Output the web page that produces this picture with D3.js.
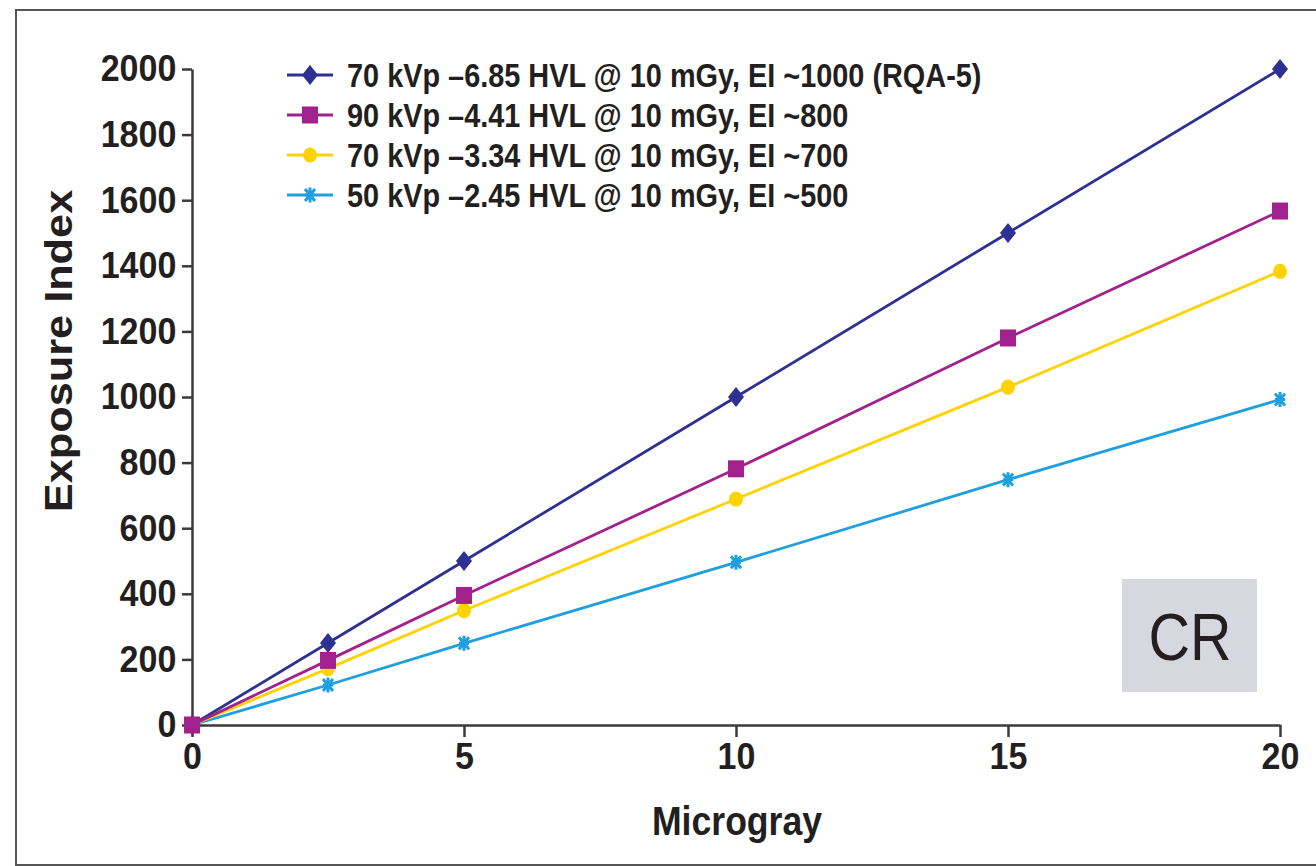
<!DOCTYPE html>
<html>
<head>
<meta charset="utf-8">
<script src="https://cdn.jsdelivr.net/npm/d3@7"></script>
<style>
  html, body { margin: 0; padding: 0; background: #fff; }
  svg { display: block; }
  text { font-family: "Liberation Sans", Arial, Helvetica, sans-serif; fill: #231f20; }
</style>
</head>
<body>
<svg id="chart" width="1316" height="866"></svg>
<script>
// ---- data ----
const microgray = [0, 2.5, 5, 10, 15, 20];
const seriesNames = [
  "70 kVp \u20136.85 HVL @ 10 mGy, EI ~1000 (RQA-5)",
  "90 kVp \u20134.41 HVL @ 10 mGy, EI ~800",
  "70 kVp \u20133.34 HVL @ 10 mGy, EI ~700",
  "50 kVp \u20132.45 HVL @ 10 mGy, EI ~500"
];
const ei70hard = [0, 250, 500, 1000, 1500, 2000];
const ei90 = [0, 197, 395, 781, 1180, 1567];
const ei70soft = [0, 172, 349, 689, 1030, 1383];
const ei50 = [0, 122, 249, 496, 748, 992];
const xTicks = [0, 5, 10, 15, 20];
const yTicks = [0, 200, 400, 600, 800, 1000, 1200, 1400, 1600, 1800, 2000];
const seriesColors = ["#2e3192", "#a3218e", "#ffd200", "#1e9fe0"];
const seriesMarkers = ["diamond", "square", "circle", "star"];

const series = [ei70hard, ei90, ei70soft, ei50].map((vals, i) => ({
  name: seriesNames[i], color: seriesColors[i], marker: seriesMarkers[i],
  points: microgray.map((m, j) => ({ x: m, y: vals[j] }))
}));

const svg = d3.select("#chart");

// outer frame
svg.append("rect").attr("x", 16).attr("y", 10).attr("width", 1330).attr("height", 855)
  .attr("fill", "none").attr("stroke", "#555").attr("stroke-width", 2);

const x = d3.scaleLinear().domain([0, 20]).range([192, 1280]);
const y = d3.scaleLinear().domain([0, 2000]).range([725, 69]);

// axes
const yAxis = svg.append("g").attr("transform", "translate(192,0)")
  .call(d3.axisLeft(y).tickValues(yTicks).tickFormat(d3.format("d"))
    .tickSize(10).tickSizeOuter(0).tickPadding(7));
const xAxis = svg.append("g").attr("transform", "translate(0,725)")
  .call(d3.axisBottom(x).tickValues(xTicks).tickFormat(d3.format("d"))
    .tickSize(12).tickSizeOuter(0).tickPadding(6));
[yAxis, xAxis].forEach(a => {
  a.select(".domain").attr("stroke", "#3a3a3a").attr("stroke-width", 2.5);
  a.selectAll(".tick line").attr("stroke", "#3a3a3a").attr("stroke-width", 2.5);
  a.selectAll(".tick text").attr("font-size", 37).attr("font-weight", "bold")
    .attr("fill", "#231f20").style("font-family", '"Liberation Sans", Arial, sans-serif')
    .attr("transform", "scale(0.92,1)");
});

// CR box
svg.append("rect").attr("x", 1122).attr("y", 579).attr("width", 135).attr("height", 113)
  .attr("fill", "#d6d7df");
svg.append("text").attr("transform", "translate(1190,660) scale(0.87,1)")
  .attr("text-anchor", "middle").attr("font-size", 66).text("CR");

// marker drawing
function drawMarker(g, type, color) {
  if (type === "diamond") {
    g.append("path").attr("d", "M0,-10L8,0L0,10L-8,0Z").attr("fill", color);
  } else if (type === "square") {
    g.append("rect").attr("x", -8).attr("y", -8.5).attr("width", 16).attr("height", 17).attr("fill", color);
  } else if (type === "circle") {
    g.append("ellipse").attr("rx", 7).attr("ry", 7.6).attr("fill", color);
  } else {
    g.append("path").attr("d", "M-5,-6L5,6M-5,6L5,-6M0,-7.5L0,7.5M-5,0L5,0")
      .attr("stroke", color).attr("stroke-width", 3).attr("fill", "none");
  }
}

const line = d3.line().x(d => x(d.x)).y(d => y(d.y));
const drawOrder = [3, 2, 0, 1];
drawOrder.forEach(i => {
  const s = series[i];
  svg.append("path").datum(s.points).attr("d", line)
    .attr("fill", "none").attr("stroke", s.color).attr("stroke-width", 2.8);
});
drawOrder.forEach(i => {
  const s = series[i];
  s.points.forEach(p => {
    const g = svg.append("g").attr("transform", `translate(${x(p.x)},${y(p.y)})`);
    drawMarker(g, s.marker, s.color);
  });
});

// legend
series.forEach((s, i) => {
  const cy = 75 + i * 40;
  const g = svg.append("g");
  g.append("line").attr("x1", 287).attr("x2", 333).attr("y1", cy).attr("y2", cy)
    .attr("stroke", s.color).attr("stroke-width", 2.8);
  const mg = g.append("g").attr("transform", `translate(310,${cy})`);
  drawMarker(mg, s.marker, s.color);
  g.append("text").attr("transform", `translate(347,${cy}) scale(0.875,1)`)
    .attr("dy", "0.36em").attr("font-size", 33).attr("font-weight", "bold").text(s.name);
});

// axis titles
svg.append("text").attr("transform", "translate(72,351) rotate(-90) scale(1.14,1)")
  .attr("text-anchor", "middle").attr("font-size", 38).attr("font-weight", "bold")
  .text("Exposure Index");
svg.append("text").attr("transform", "translate(737,835) scale(0.89,1)")
  .attr("text-anchor", "middle").attr("font-size", 40).attr("font-weight", "bold")
  .text("Microgray");
</script>
</body>
</html>
